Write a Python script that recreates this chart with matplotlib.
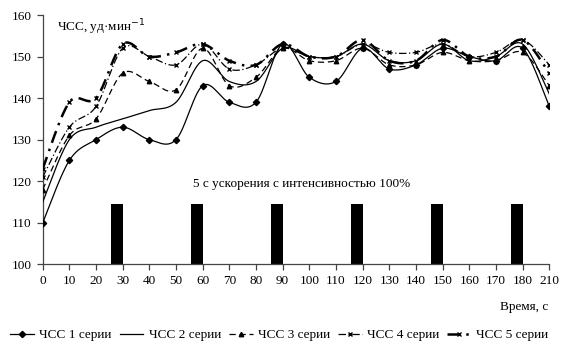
import numpy as np
import matplotlib
matplotlib.use("Agg")
import matplotlib.pyplot as plt
from matplotlib.lines import Line2D

plt.rcParams['font.family'] = ['Liberation Serif', 'DejaVu Serif']

# ---- data ----
x_labels = ['0', '10', '20', '30', '40', '50', '60', '70', '80', '90', '100',
            '110', '120', '130', '140', '150', '160', '170', '180', '210']
s1 = [110, 125, 130, 133, 130, 130, 143, 139, 139, 153, 145, 144, 152, 147, 148, 152, 150, 149, 152, 138]
s2 = [115, 130, 133, 135, 137, 139, 149, 144, 144, 152, 150, 150, 153, 149, 149, 153, 149, 150, 153, 141]
s3 = [118, 131, 135, 146, 144, 142, 152, 143, 145, 152, 149, 149, 152, 148, 148, 151, 149, 149, 151, 143]
s4 = [121, 133, 138, 152, 150, 148, 153, 147, 148, 152, 150, 150, 153, 151, 151, 153, 150, 151, 154, 148]
s5 = [123, 139, 140, 153, 150, 151, 153, 149, 148, 153, 150, 150, 154, 149, 149, 154, 150, 150, 154, 146]
series_names = ['ЧСС 1 серии', 'ЧСС 2 серии', 'ЧСС 3 серии', 'ЧСС 4 серии', 'ЧСС 5 серии']
bar_end_cats = ['30', '60', '90', '120', '150', '180']
bar_top = 114.5
bar_base = 100

# ---- helpers ----
def smooth(xs, ys, n=30):
    xs = np.asarray(xs, float); ys = np.asarray(ys, float)
    px = np.concatenate([[xs[0]], xs, [xs[-1]]])
    py = np.concatenate([[ys[0]], ys, [ys[-1]]])
    ox, oy = [], []
    t = np.linspace(0, 1, n)
    for i in range(1, len(px) - 2):
        p0 = np.array([px[i], py[i]]); p3 = np.array([px[i + 1], py[i + 1]])
        c1 = p0 + (np.array([px[i + 1], py[i + 1]]) - np.array([px[i - 1], py[i - 1]])) / 6
        c2 = p3 - (np.array([px[i + 2], py[i + 2]]) - np.array([px[i], py[i]])) / 6
        b = ((1 - t) ** 3)[:, None] * p0 + (3 * (1 - t) ** 2 * t)[:, None] * c1 + \
            (3 * (1 - t) * t ** 2)[:, None] * c2 + (t ** 3)[:, None] * p3
        ox.extend(b[:, 0]); oy.extend(b[:, 1])
    return np.array(ox), np.array(oy)

fig = plt.figure(figsize=(5.70, 3.54), dpi=100)
ax = fig.add_axes([42.7 / 570, 1 - 264.3 / 354, (549.3 - 42.7) / 570, (264.3 - 15) / 354])

xpos = np.arange(len(x_labels))

# bars
bar_w = 0.45
bx = [x_labels.index(c) for c in bar_end_cats]
ax.bar(np.array(bx) - bar_w, [bar_top - bar_base] * len(bx), bottom=bar_base,
       width=bar_w, align='edge', color='black', zorder=2)

styles = [
    dict(color='black', lw=0.9, ls='-', marker='D', ms=3.2),
    dict(color='black', lw=0.9, ls='-', marker=None, ms=0),
    dict(color='black', lw=0.9, ls=(0, (5, 3)), marker='^', ms=3.2),
    dict(color='black', lw=0.9, ls=(0, (6, 2, 1, 2)), marker='x', ms=3.2),
    dict(color='black', lw=1.8, ls=(0, (5, 2.5, 1, 2.5)), marker='x', ms=3.2),
]
data = [s1, s2, s3, s4, s5]
handles = []
for ys, st, name in zip(data, styles, series_names):
    sx, sy = smooth(xpos, ys)
    ax.plot(sx, sy, color=st['color'], lw=st['lw'], ls=st['ls'], zorder=3)
    if st['marker']:
        ax.plot(xpos, ys, ls='none', marker=st['marker'], ms=st['ms'],
                color='black', mec='black', mew=1.0, zorder=4)
    handles.append(Line2D([], [], color='black', lw=st['lw'], ls=st['ls'],
                          marker=st['marker'], ms=st['ms']))

ax.set_xlim(0, len(x_labels) - 1)
ax.set_ylim(100, 160)
ax.set_xticks(xpos)
ax.set_xticklabels(x_labels)
ax.set_yticks([100, 110, 120, 130, 140, 150, 160])
for s in ['top', 'right']:
    ax.spines[s].set_visible(False)
for s in ['left', 'bottom']:
    ax.spines[s].set_color('#444444')
    ax.spines[s].set_linewidth(0.9)
ax.tick_params(axis='both', direction='out', length=4, width=0.9, color='#444444',
               labelsize=9.5, pad=4)

ax.text(0.55, 157, 'ЧСС, уд·мин$^{-1}$', fontsize=9.5, va='center', ha='left')
ax.text(9.7, 119.4, '5 с ускорения с интенсивностью 100%', fontsize=9.5,
        va='center', ha='center')
fig.text(548 / 570, 1 - 307 / 354, 'Время, с', fontsize=9.5, ha='right', va='center')

fig.legend(handles, series_names, loc='center', bbox_to_anchor=(0.49, 1 - 335 / 354),
           ncol=5, frameon=False, fontsize=9.5, handlelength=1.8, handletextpad=0.4,
           columnspacing=0.6)

fig.savefig('out.png', dpi=100)
